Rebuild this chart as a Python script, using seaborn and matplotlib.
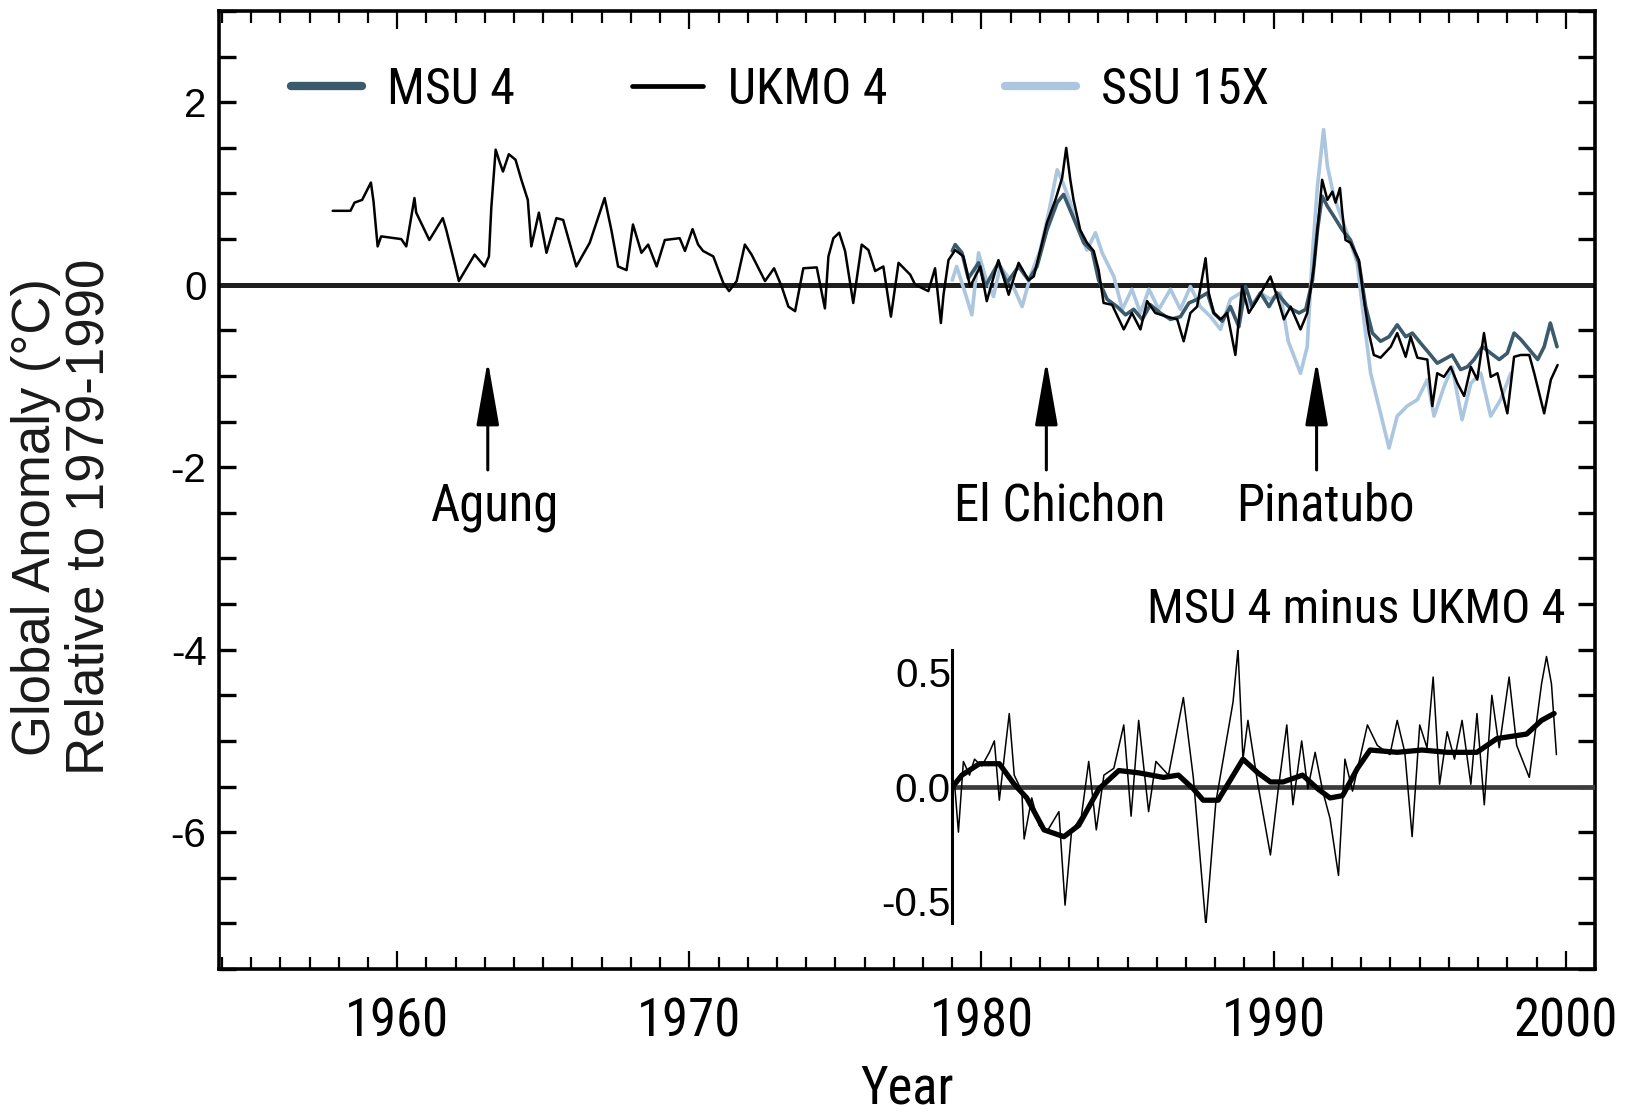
import matplotlib
matplotlib.use("Agg")
import matplotlib.pyplot as plt
import seaborn as sns
from matplotlib import font_manager as fm
from matplotlib.font_manager import FontProperties
from matplotlib.lines import Line2D
from matplotlib.ticker import MultipleLocator, FixedLocator, FuncFormatter

# ---------------- data ----------------
ukmo_year = [1957.79, 1958.40, 1958.54, 1958.80, 1959.10, 1959.19, 1959.33, 1959.45, 1960.14, 1960.31,
             1960.59, 1960.65, 1961.10, 1961.56, 1961.68, 1961.96, 1962.11, 1962.65, 1962.99, 1963.14,
             1963.22, 1963.37, 1963.50, 1963.62, 1963.82, 1964.05, 1964.25, 1964.47, 1964.59, 1964.85,
             1965.11, 1965.45, 1965.68, 1966.13, 1966.59, 1967.10, 1967.33, 1967.56, 1967.85, 1968.07,
             1968.36, 1968.59, 1968.88, 1969.16, 1969.67, 1969.85, 1970.11, 1970.30, 1970.47, 1970.82,
             1971.16, 1971.36, 1971.62, 1971.90, 1972.13, 1972.59, 1972.90, 1973.16, 1973.39, 1973.62,
             1973.90, 1974.36, 1974.64, 1974.76, 1974.93, 1975.13, 1975.33, 1975.61, 1975.90, 1976.13,
             1976.36, 1976.64, 1976.90, 1977.16, 1977.56, 1977.73, 1978.18, 1978.41, 1978.61, 1978.70,
             1978.87, 1979.10, 1979.38, 1979.61, 1979.96, 1980.18, 1980.58, 1980.93, 1981.27, 1981.61,
             1981.79, 1982.01, 1982.24, 1982.53, 1982.76, 1982.90, 1983.04, 1983.15, 1983.38, 1983.61,
             1983.84, 1984.01, 1984.18, 1984.47, 1984.87, 1985.15, 1985.44, 1985.67, 1985.95, 1986.35,
             1986.70, 1986.92, 1987.15, 1987.38, 1987.67, 1987.78, 1987.95, 1988.18, 1988.41, 1988.69,
             1988.92, 1989.15, 1989.44, 1989.89, 1990.12, 1990.35, 1990.58, 1990.92, 1991.15, 1991.38,
             1991.66, 1991.84, 1992.01, 1992.12, 1992.27, 1992.35, 1992.46, 1992.63, 1992.92, 1993.09,
             1993.26, 1993.43, 1993.66, 1994.01, 1994.23, 1994.52, 1994.69, 1994.92, 1995.26, 1995.43,
             1995.60, 1995.83, 1996.06, 1996.29, 1996.52, 1996.75, 1996.97, 1997.20, 1997.43, 1997.66,
             1998.00, 1998.23, 1998.46, 1998.75, 1998.92, 1999.26, 1999.49, 1999.72]
ukmo_val = [0.81, 0.81, 0.90, 0.93, 1.12, 0.91, 0.42, 0.53, 0.50, 0.42,
            0.95, 0.79, 0.49, 0.73, 0.60, 0.24, 0.04, 0.33, 0.20, 0.31,
            0.84, 1.48, 1.35, 1.24, 1.43, 1.37, 1.15, 0.93, 0.42, 0.79,
            0.35, 0.73, 0.71, 0.20, 0.46, 0.95, 0.60, 0.20, 0.16, 0.66,
            0.35, 0.44, 0.20, 0.49, 0.51, 0.37, 0.61, 0.44, 0.37, 0.31,
            0.02, -0.07, 0.04, 0.44, 0.33, 0.04, 0.18, -0.02, -0.24, -0.29,
            0.18, 0.19, -0.26, 0.31, 0.51, 0.57, 0.37, -0.20, 0.44, 0.38,
            0.15, 0.20, -0.35, 0.24, 0.11, 0.00, -0.07, 0.18, -0.42, -0.11,
            0.27, 0.38, 0.31, -0.02, 0.20, -0.18, 0.27, -0.11, 0.24, 0.05,
            0.09, 0.38, 0.68, 0.93, 1.17, 1.50, 1.15, 0.93, 0.60, 0.46,
            0.37, 0.16, -0.20, -0.22, -0.49, -0.31, -0.49, -0.18, -0.31, -0.35,
            -0.38, -0.62, -0.31, -0.24, 0.29, -0.09, -0.31, -0.38, -0.31, -0.77,
            -0.02, -0.31, -0.16, 0.09, -0.13, -0.38, -0.24, -0.49, -0.31, 0.20,
            1.15, 0.93, 1.02, 0.90, 1.06, 0.79, 0.49, 0.46, 0.27, -0.16,
            -0.53, -0.77, -0.80, -0.68, -0.53, -0.79, -0.57, -0.80, -0.82, -1.33,
            -0.97, -1.01, -0.90, -1.08, -1.22, -0.90, -1.04, -0.53, -1.01, -0.97,
            -1.41, -0.79, -0.77, -0.77, -0.97, -1.41, -1.04, -0.88]

msu_year = [1979.00, 1979.10, 1979.33, 1979.55, 1979.90, 1980.13, 1980.58, 1980.87, 1981.27, 1981.61,
            1981.90, 1982.24, 1982.59, 1982.81, 1982.98, 1983.27, 1983.50, 1983.79, 1984.01, 1984.30,
            1984.64, 1984.93, 1985.21, 1985.50, 1985.78, 1986.12, 1986.47, 1986.81, 1987.10, 1987.38,
            1987.73, 1987.95, 1988.24, 1988.52, 1988.81, 1989.04, 1989.27, 1989.55, 1989.84, 1990.12,
            1990.40, 1990.58, 1990.87, 1991.10, 1991.33, 1991.50, 1991.66, 1991.84, 1992.06, 1992.35,
            1992.63, 1992.92, 1993.15, 1993.38, 1993.66, 1993.95, 1994.23, 1994.52, 1994.75, 1995.03,
            1995.32, 1995.60, 1995.83, 1996.11, 1996.40, 1996.63, 1996.86, 1997.15, 1997.43, 1997.72,
            1998.00, 1998.23, 1998.46, 1998.75, 1999.04, 1999.26, 1999.47, 1999.70]
msu_val = [0.37, 0.44, 0.35, 0.07, 0.24, -0.02, 0.24, 0.02, 0.20, 0.05,
           0.20, 0.60, 0.90, 0.99, 0.86, 0.64, 0.46, 0.37, 0.05, -0.16,
           -0.24, -0.33, -0.27, -0.38, -0.22, -0.31, -0.38, -0.35, -0.20, -0.16,
           -0.09, -0.31, -0.40, -0.24, -0.46, -0.02, -0.24, -0.09, -0.24, -0.09,
           -0.20, -0.26, -0.31, -0.27, 0.05, 0.60, 0.97, 0.86, 0.75, 0.60,
           0.49, 0.24, -0.24, -0.53, -0.62, -0.57, -0.44, -0.57, -0.53, -0.64,
           -0.75, -0.86, -0.82, -0.77, -0.93, -0.90, -0.82, -0.68, -0.75, -0.82,
           -0.75, -0.53, -0.60, -0.71, -0.82, -0.68, -0.42, -0.68]

ssu_year = [1979.00, 1979.15, 1979.44, 1979.67, 1979.90, 1980.13, 1980.41, 1980.64, 1980.99, 1981.39,
            1981.67, 1982.01, 1982.30, 1982.59, 1982.81, 1983.04, 1983.27, 1983.61, 1983.90, 1984.13,
            1984.53, 1984.82, 1985.15, 1985.44, 1985.73, 1986.07, 1986.47, 1986.81, 1987.15, 1987.49,
            1987.84, 1988.18, 1988.52, 1988.87, 1989.21, 1989.55, 1989.89, 1990.23, 1990.50, 1990.92,
            1991.15, 1991.33, 1991.50, 1991.71, 1991.84, 1992.06, 1992.35, 1992.63, 1992.86, 1993.09,
            1993.32, 1993.66, 1993.95, 1994.23, 1994.57, 1994.92, 1995.26, 1995.49, 1995.83, 1996.11,
            1996.45, 1996.75, 1997.09, 1997.43, 1997.77, 1998.12]
ssu_val = [0.05, 0.20, -0.09, -0.33, 0.35, 0.09, -0.13, 0.20, 0.05, -0.24,
           0.09, 0.38, 0.79, 1.26, 1.10, 0.90, 0.64, 0.38, 0.57, 0.35,
           0.09, -0.27, -0.05, -0.31, -0.05, -0.27, -0.05, -0.27, -0.02, -0.24,
           -0.35, -0.49, -0.16, -0.09, -0.24, -0.09, -0.16, -0.09, -0.62, -0.97,
           -0.68, 0.35, 1.08, 1.70, 1.30, 0.97, 0.71, 0.46, 0.24, -0.38,
           -0.97, -1.41, -1.79, -1.44, -1.33, -1.26, -1.04, -1.44, -1.12, -0.90,
           -1.48, -1.08, -0.97, -1.44, -1.26, -0.97]

diff_year = [1979.08, 1979.21, 1979.38, 1979.59, 1979.76, 1980.01, 1980.27, 1980.44, 1980.61, 1980.95,
             1981.12, 1981.38, 1981.46, 1981.72, 1981.97, 1982.23, 1982.65, 1982.86, 1983.08, 1983.42,
             1983.67, 1983.93, 1984.19, 1984.53, 1984.87, 1985.12, 1985.38, 1985.72, 1985.97, 1986.40,
             1986.91, 1987.25, 1987.68, 1988.02, 1988.61, 1988.78, 1988.95, 1989.12, 1989.46, 1989.89,
             1990.15, 1990.45, 1990.66, 1990.96, 1991.17, 1991.42, 1991.68, 1991.93, 1992.22, 1992.44,
             1992.70, 1993.21, 1993.55, 1993.98, 1994.23, 1994.49, 1994.74, 1995.00, 1995.25, 1995.46,
             1995.68, 1995.94, 1996.19, 1996.45, 1996.75, 1996.96, 1997.21, 1997.47, 1997.72, 1998.06,
             1998.32, 1998.75, 1999.17, 1999.34, 1999.51, 1999.68]
diff_val = [0.01, -0.20, 0.11, 0.05, 0.12, 0.09, 0.15, 0.20, -0.06, 0.32,
            0.05, -0.02, -0.23, -0.05, -0.17, -0.20, -0.11, -0.52, -0.20, -0.13,
            0.11, -0.19, 0.05, 0.08, 0.27, -0.13, 0.29, -0.11, 0.11, 0.05,
            0.39, 0.04, -0.61, -0.07, 0.37, 0.60, 0.12, 0.29, 0.01, -0.30,
            -0.02, 0.27, -0.08, 0.20, -0.01, 0.15, -0.02, -0.14, -0.39, 0.12,
            -0.02, 0.27, 0.18, 0.14, 0.29, 0.15, -0.22, 0.27, 0.17, 0.48,
            0.01, 0.24, 0.12, 0.29, 0.01, 0.32, -0.08, 0.40, 0.17, 0.48,
            0.18, 0.04, 0.45, 0.57, 0.45, 0.14]

smooth_year = [1979.08, 1979.33, 1979.93, 1980.61, 1981.12, 1981.55, 1982.14, 1982.82, 1983.33, 1984.02,
               1984.70, 1985.38, 1986.23, 1986.74, 1987.25, 1987.59, 1988.10, 1988.95, 1989.46, 1989.89,
               1990.32, 1990.99, 1991.51, 1991.93, 1992.36, 1992.87, 1993.30, 1994.23, 1995.08, 1995.94,
               1996.96, 1997.64, 1998.66, 1999.17, 1999.60]
smooth_val = [0.01, 0.05, 0.10, 0.10, 0.01, -0.05, -0.19, -0.22, -0.17, -0.01,
              0.07, 0.06, 0.04, 0.05, -0.01, -0.06, -0.06, 0.12, 0.06, 0.02,
              0.02, 0.05, -0.01, -0.05, -0.04, 0.08, 0.16, 0.15, 0.16, 0.15,
              0.15, 0.21, 0.23, 0.29, 0.32]

series_labels = ["MSU 4", "UKMO 4", "SSU 15X"]
eruption_names = ["Agung", "El Chichon", "Pinatubo"]
eruption_year = [1963.1, 1982.22, 1991.47]
eruption_text_x = [1963.34, 1982.66, 1991.78]
inset_title = "MSU 4 minus UKMO 4"
x_ticks = [1960, 1970, 1980, 1990, 2000]
y_ticks = [2, 0, -2, -4, -6]
inset_ticks = [-0.5, 0.0, 0.5]

# ---------------- style ----------------
sns.set_theme(style="white", rc={"text.color": "black", "axes.labelcolor": "black",
                                  "xtick.color": "black", "ytick.color": "black",
                                  "axes.edgecolor": "black"})
plt.rcParams["font.family"] = ["Liberation Sans", "DejaVu Sans"]
plt.rcParams["axes.unicode_minus"] = False

avail = {f.name for f in fm.fontManager.ttflist}
cond_family, cond_stretch, cond_scale = None, "normal", 1.0
for nm in ["Liberation Sans Narrow", "Arial Narrow", "Roboto Condensed",
           "Open Sans Condensed", "Noto Sans Condensed"]:
    if nm in avail:
        cond_family = nm
        break
if cond_family is None:
    if any(f.name == "DejaVu Sans" and "condensed" in str(f.stretch) for f in fm.fontManager.ttflist):
        cond_family, cond_stretch, cond_scale = "DejaVu Sans", "condensed", 0.82
    else:
        cond_family, cond_scale = "Liberation Sans", 0.86


def cfp(size):
    return FontProperties(family=[cond_family, "DejaVu Sans"], stretch=cond_stretch,
                          size=size * cond_scale)


BIG = 38
MSU_C = "#3b5a6c"
SSU_C = "#abc6de"

fig = plt.figure(figsize=(16.28, 11.14), dpi=100)
ax = fig.add_axes([219 / 1628, 1 - 969 / 1114, (1595 - 219) / 1628, (969 - 11) / 1114])
ax.set_xlim(1953.9, 2001.0)
ax.set_ylim(-7.5, 3.0)

ax.axhline(0, color="#1e1e1e", lw=3.6, zorder=1.5)
sns.lineplot(x=ssu_year, y=ssu_val, ax=ax, color=SSU_C, lw=2.6, estimator=None, sort=False, zorder=2)
sns.lineplot(x=msu_year, y=msu_val, ax=ax, color=MSU_C, lw=2.6, estimator=None, sort=False, zorder=3)
sns.lineplot(x=ukmo_year, y=ukmo_val, ax=ax, color="black", lw=1.8, estimator=None, sort=False, zorder=4)

# eruption arrows and names
for nm, xa, xt in zip(eruption_names, eruption_year, eruption_text_x):
    ax.annotate("", xy=(xa, -0.83), xytext=(xa, -2.03),
                arrowprops=dict(arrowstyle="-|>,head_length=4.0,head_width=0.7", lw=2.2,
                                color="black", mutation_scale=10, shrinkA=0, shrinkB=0))
    ax.text(xt, -2.58, nm, ha="center", va="baseline", fontproperties=cfp(BIG - 1.5))

# legend
handles = [Line2D([], [], color=MSU_C, lw=6),
           Line2D([], [], color="black", lw=3.4),
           Line2D([], [], color=SSU_C, lw=6)]
ax.legend(handles, series_labels, ncol=3, loc="center left", bbox_to_anchor=(0.052, 0.918),
          frameon=False, handlelength=1.42, handletextpad=0.5, columnspacing=2.35,
          borderpad=0, borderaxespad=0, prop=cfp(36))

# axes styling
for s in ax.spines.values():
    s.set_color("black")
    s.set_linewidth(2.6)
ax.xaxis.set_major_locator(FixedLocator(x_ticks))
ax.xaxis.set_minor_locator(MultipleLocator(1))
ax.yaxis.set_major_locator(FixedLocator(y_ticks))
ax.yaxis.set_minor_locator(MultipleLocator(0.5))
ax.yaxis.set_major_formatter(FuncFormatter(lambda v, p: f"{v:g}"))
ax.tick_params(axis="x", which="both", direction="in", top=True, bottom=True, width=1.6, pad=20)
ax.tick_params(axis="x", which="major", length=13)
ax.tick_params(axis="x", which="minor", length=8.5)
ax.tick_params(axis="y", which="both", direction="in", left=True, right=True, length=12,
               width=2.4, pad=9, labelsize=29)
for t in ax.get_xticklabels():
    t.set_fontproperties(cfp(BIG))
ax.set_xlabel("Year", fontproperties=cfp(BIG), labelpad=11)
ax.set_ylabel("Global Anomaly (°C)\nRelative to 1979-1990", fontsize=38, linespacing=1.1,
              color="#1a1a1a")
ax.yaxis.set_label_coords(-0.0756, 0.472)
ax.grid(False)

# inset: MSU 4 minus UKMO 4
ins = ax.inset_axes([1979.0, -7.0, 2001.0 - 1979.0, 3.0], transform=ax.transData)
ins.set_xlim(1979.0, 2001.0)
ins.set_ylim(-0.6, 0.6)
ins.patch.set_alpha(0)
for s in ["top", "right", "bottom"]:
    ins.spines[s].set_visible(False)
ins.spines["left"].set_color("black")
ins.spines["left"].set_linewidth(2.2)
ins.axhline(0, color="#3c3c3c", lw=3.4, zorder=1)
sns.lineplot(x=diff_year, y=diff_val, ax=ins, color="black", lw=1.1, estimator=None, sort=False, zorder=2)
sns.lineplot(x=smooth_year, y=smooth_val, ax=ins, color="black", lw=3.8, estimator=None, sort=False, zorder=3)
ins.set_xticks([])
ins.set_xlabel("")
ins.set_ylabel("")
ins.yaxis.set_major_locator(FixedLocator(inset_ticks))
ins.yaxis.set_minor_locator(MultipleLocator(0.1))
ins.yaxis.set_major_formatter(FuncFormatter(lambda v, p: f"{v:.1f}"))
ins.tick_params(axis="y", which="major", direction="inout", length=16, width=2.2, pad=-7,
                labelsize=29)
ins.tick_params(axis="y", which="minor", direction="inout", length=10, width=2.2)
ins.grid(False)
ax.text(2000.0, -3.71, inset_title, ha="right", va="baseline", fontproperties=cfp(BIG - 3))

fig.savefig("out.png", dpi=100)
